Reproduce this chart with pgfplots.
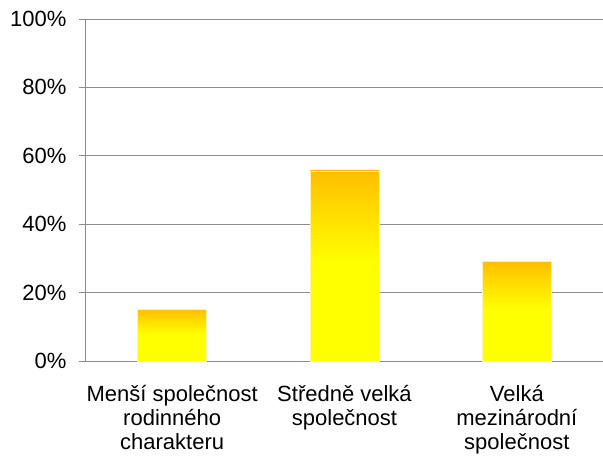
\documentclass[border=0pt]{standalone}
\usepackage{pgfplots}
\pgfplotsset{compat=1.18}
\usepackage{fontspec}
\setmainfont{Liberation Sans}
\definecolor{gridc}{RGB}{140,140,140}
\definecolor{barorange}{RGB}{255,190,0}
\definecolor{baredge}{RGB}{255,240,180}
\pgfdeclareverticalshading{barshade}{100bp}{color(0bp)=(yellow); color(25bp)=(yellow); color(51bp)=(yellow); color(75bp)=(barorange); color(100bp)=(barorange)}
\begin{document}
\begin{tikzpicture}
\begin{axis}[
  at={(0,0)}, anchor=south west,
  scale only axis, width=517pt, height=342pt,
  xmin=-0.5, xmax=2.5, ymin=0, ymax=100,
  axis x line*=bottom, axis y line*=left,
  axis line style={gridc, line width=1pt},
  ytick={0,20,40,60,80,100},
  yticklabel={\pgfmathprintnumber{\tick}\%},
  ymajorgrids, grid style={gridc, line width=1pt},
  tick style={gridc, line width=1pt},
  major tick length=7pt, tick align=outside,
  xtick={0,1,2}, xticklabels={},
  extra x ticks={-0.5,0.5,1.5,2.5}, extra x tick labels={},
  extra x tick style={grid=none, major tick length=8pt},
  xmajorticks=false,
  /pgf/number format/assume math mode=true,
  ticklabel style={font=\fontsize{22}{26}\selectfont, text=black},
  yticklabel style={xshift=-9pt},
  clip=false,
  mybar/.style={ybar, bar width=0.4, bar shift=0pt, draw=baredge, line width=0.5pt, shading=barshade, mark=none},
]
\addplot[mybar] coordinates {(0,15.2)};
\addplot[mybar] coordinates {(1,55.6)};
\addplot[mybar] coordinates {(2,29.2)};
\foreach \i/\lab in {0/{Menší společnost\\rodinného\\charakteru},1/{Středně velká\\společnost},2/{Velká\\mezinárodní\\společnost}}{
  \edef\tmp{\noexpand\node[anchor=north, align=center, font=\noexpand\fontsize{22}{24}\noexpand\selectfont, inner sep=0pt] at (axis cs:\i,0) [yshift=-24pt] {\unexpanded\expandafter{\lab}};}
  \tmp
}
\end{axis}
\pgfresetboundingbox
\path (-86pt,-98pt) rectangle (517pt,361pt);
\end{tikzpicture}
\end{document}
